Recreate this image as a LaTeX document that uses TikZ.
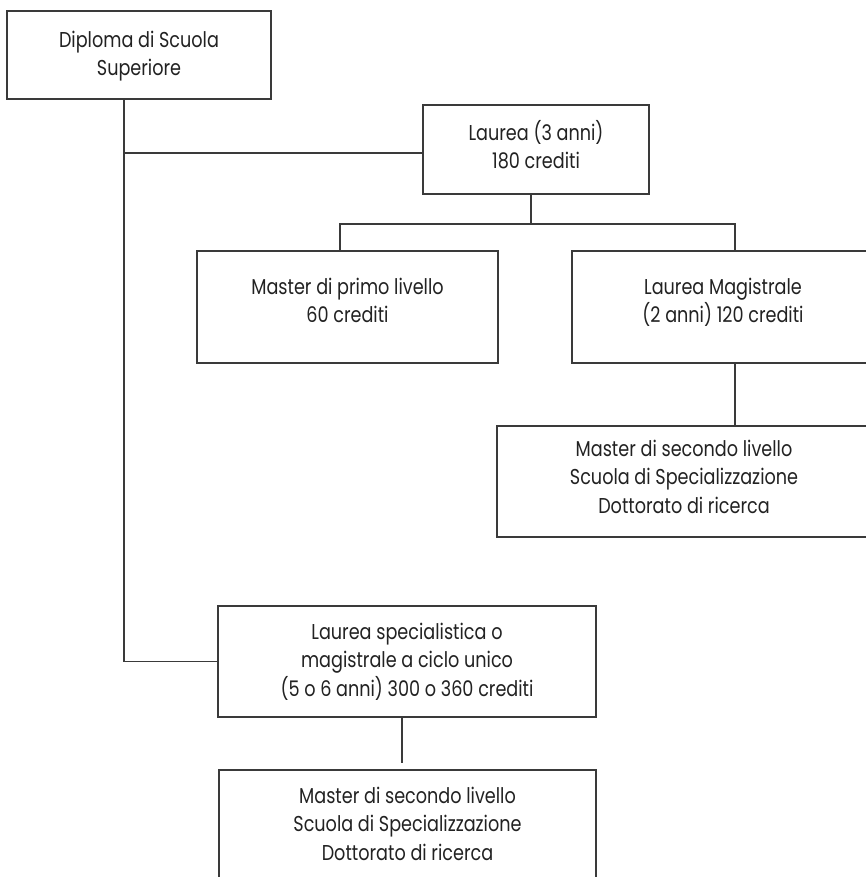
\documentclass[tikz,border=0pt]{standalone}
\usepackage{fontspec}
\setmainfont{Poppins}[FakeStretch=0.82]
\definecolor{linec}{HTML}{3A3A3A}
\definecolor{txtc}{HTML}{222222}
\tikzset{
  box/.style={draw=linec, line width=1.6pt, align=center, inner sep=0pt,
    text=txtc, font=\fontsize{21.5}{28.5}\selectfont},
  conn/.style={draw=linec, line width=1.6pt}
}
\begin{document}
\begin{tikzpicture}[x=1pt,y=-1pt]
\useasboundingbox (0,0) rectangle (866,877);
\clip (0,0) rectangle (866,877);
\fill[white] (0,0) rectangle (866,877);
\node[box, minimum width=264pt, minimum height=88pt, text height=44pt, text depth=2pt] (b1) at (139,55) {Diploma di Scuola\\Superiore};
\node[box, minimum width=226pt, minimum height=89pt, text height=44pt, text depth=5pt] (b2) at (536,149.5) {Laurea (3 anni)\\180 crediti};
\node[box, minimum width=301pt, minimum height=112pt, text height=44pt, text depth=13pt] (b3) at (347.5,307) {Master di primo livello\\60 crediti};
\node[box, minimum width=302pt, minimum height=112pt, text height=44pt, text depth=13pt] (b4) at (723,307) {Laurea Magistrale\\(2 anni) 120 crediti};
\node[box, minimum width=374pt, minimum height=111pt, text height=73pt, text depth=10pt] (b5) at (684,481.5) {Master di secondo livello\\Scuola di Specializzazione\\Dottorato di ricerca};
\node[box, minimum width=378pt, minimum height=111pt, text height=73pt, text depth=4pt] (b6) at (407,661.5) {Laurea specialistica o\\magistrale a ciclo unico\\(5 o 6 anni) 300 o 360 crediti};
\node[box, minimum width=377pt, minimum height=111pt, text height=73pt, text depth=4pt] (b7) at (407.5,825.5) {Master di secondo livello\\Scuola di Specializzazione\\Dottorato di ricerca};
\coordinate (t1) at (124,0);
\coordinate (j1) at (124,153);
\coordinate (t2) at (531,0);
\coordinate (h) at (0,224);
\coordinate (t3) at (340,0);
\coordinate (t4) at (735,0);
\coordinate (e7) at (402,763);
\draw[conn] (b1.south -| t1) |- (b6.west);
\draw[conn] (j1) -- (j1 -| b2.west);
\draw[conn] (b2.south -| t2) -- (h -| t2);
\draw[conn] (b3.north -| t3) -- (h -| t3) -- (h -| t4) -- (b4.north -| t4);
\draw[conn] (b4.south -| t4) -- (b5.north -| t4);
\draw[conn] (b6.south -| e7) -- (e7);
\end{tikzpicture}
\end{document}
